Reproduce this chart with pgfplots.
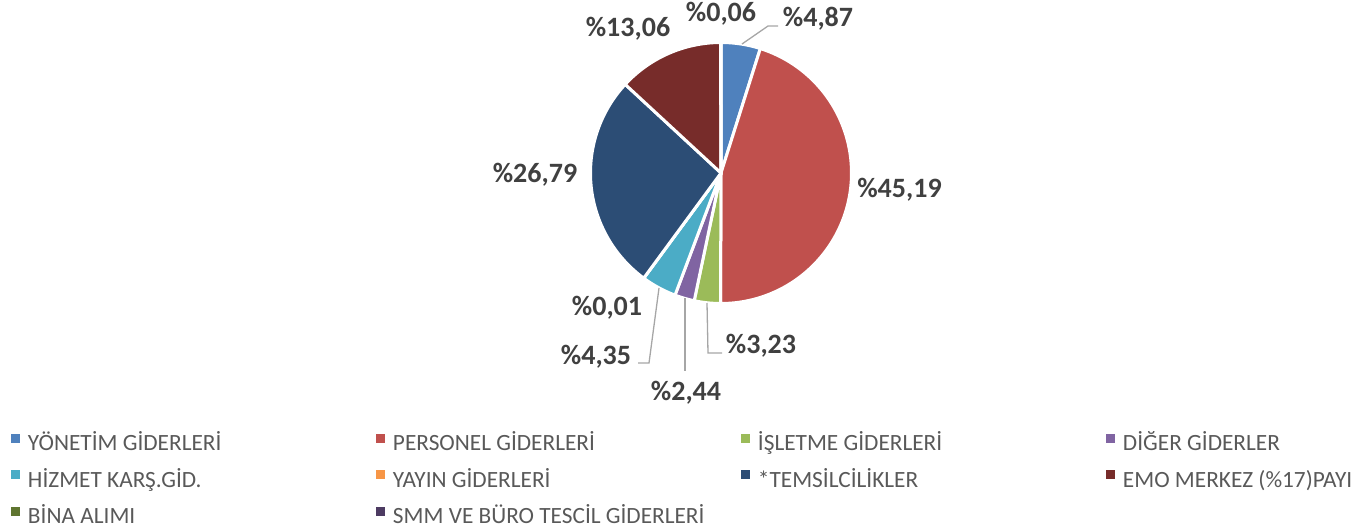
\documentclass[border=0pt]{standalone}
\usepackage{fontspec}
\setmainfont{Carlito}
\usepackage{pgfplots}
\pgfplotsset{compat=1.18}
\definecolor{c1}{HTML}{4F81BD}
\definecolor{c2}{HTML}{C0504D}
\definecolor{c3}{HTML}{9BBB59}
\definecolor{c4}{HTML}{8064A2}
\definecolor{c5}{HTML}{4BACC6}
\definecolor{c6}{HTML}{F79646}
\definecolor{c7}{HTML}{2C4D75}
\definecolor{c8}{HTML}{772C2A}
\definecolor{c9}{HTML}{5F7530}
\definecolor{c10}{HTML}{4D3B62}
\definecolor{labelgray}{HTML}{404040}
\definecolor{legendgray}{HTML}{595959}
\definecolor{leadergray}{HTML}{A6A6A6}
\def\cum{0}
\newcommand\slice[2]{%
  \pgfmathsetmacro\aA{90-3.6*(\cum+#1)}%
  \pgfmathsetmacro\aB{90-3.6*\cum}%
  \addplot[fill=#2, draw=white, line width=3pt, line join=round, domain=\aA:\aB, samples=80, forget plot]
    ({721+130.5*cos(x)},{353+130.5*sin(x)}) -- (axis cs:721,353) -- cycle;
  \pgfmathsetmacro\cum{\cum+#1}\xdef\cum{\cum}%
}
\begin{document}
\begin{tikzpicture}
\begin{axis}[
  width=1369pt, height=526pt, scale only axis,
  xmin=0, xmax=1369, ymin=0, ymax=526,
  hide axis, clip=false,
  legend image code/.code={\fill[#1, draw=none] (0pt,2.8pt) rectangle (9pt,11.8pt);},
  legend cell align=left,
  legend columns=4,
  legend style={draw=none, fill=none, inner sep=0pt, outer sep=0pt,
    font=\fontsize{23.3}{28}\selectfont, text=legendgray,
    nodes={inner sep=0pt, text height=15pt, text depth=5pt},
    row sep=14.5pt,
    /tikz/every odd column/.append style={column sep=8pt},
    /tikz/every even column/.append style={column sep=0pt},
    at={(axis cs:11,92)}, anchor=north west},
]
\path (axis cs:0,0) rectangle (axis cs:1369,526);
% slices: YONETIM, PERSONEL, ISLETME, DIGER, HIZMET, YAYIN, TEMSILCILIKLER, EMO MERKEZ, (BINA ALIMI = 0), SMM
\slice{4.87}{c1}
\slice{45.19}{c2}
\slice{3.23}{c3}
\slice{2.44}{c4}
\slice{4.35}{c5}
\slice{0.01}{c6}
\slice{26.79}{c7}
\slice{13.06}{c8}
\slice{0.06}{c10}
% legend
\addlegendimage{draw=none, fill=c1}\addlegendentry{\makebox[348pt][l]{YÖNETİM GİDERLERİ}}
\addlegendimage{draw=none, fill=c2}\addlegendentry{\makebox[348pt][l]{PERSONEL GİDERLERİ}}
\addlegendimage{draw=none, fill=c3}\addlegendentry{\makebox[348pt][l]{İŞLETME GİDERLERİ}}
\addlegendimage{draw=none, fill=c4}\addlegendentry{DİĞER GİDERLER}
\addlegendimage{draw=none, fill=c5}\addlegendentry{\makebox[348pt][l]{HİZMET KARŞ.GİD.}}
\addlegendimage{draw=none, fill=c6}\addlegendentry{\makebox[348pt][l]{YAYIN GİDERLERİ}}
\addlegendimage{draw=none, fill=c7}\addlegendentry{\makebox[348pt][l]{*TEMSİLCİLİKLER}}
\addlegendimage{draw=none, fill=c8}\addlegendentry{EMO MERKEZ (\%17)PAYI}
\addlegendimage{draw=none, fill=c9}\addlegendentry{\makebox[348pt][l]{BİNA ALIMI}}
\addlegendimage{draw=none, fill=c10}\addlegendentry{\makebox[348pt][l]{SMM VE BÜRO TESCİL GİDERLERİ}}
% leader lines
\draw[leadergray, line width=1.3pt] (axis cs:742,482) -- (axis cs:768,500) -- (axis cs:778,500);
\draw[leadergray, line width=1.3pt] (axis cs:659,238) -- (axis cs:649,163) -- (axis cs:638,163);
\draw[leadergray, line width=1.3pt] (axis cs:685,228) -- (axis cs:685,155);
\draw[leadergray, line width=1.3pt] (axis cs:707,223) -- (axis cs:708,173) -- (axis cs:722,173);
% data labels
\begin{scope}[every node/.style={font=\fontsize{28}{34}\selectfont\bfseries, text=labelgray, anchor=base, inner sep=0pt}]
\node at (axis cs:721,504) {\%0,06};
\node at (axis cs:818,499) {\%4,87};
\node at (axis cs:628,489) {\%13,06};
\node at (axis cs:899.5,328) {\%45,19};
\node at (axis cs:535,343) {\%26,79};
\node at (axis cs:607,211) {\%0,01};
\node at (axis cs:596,162) {\%4,35};
\node at (axis cs:686,126) {\%2,44};
\node at (axis cs:761,173) {\%3,23};
\end{scope}
\end{axis}
\end{tikzpicture}
\end{document}
